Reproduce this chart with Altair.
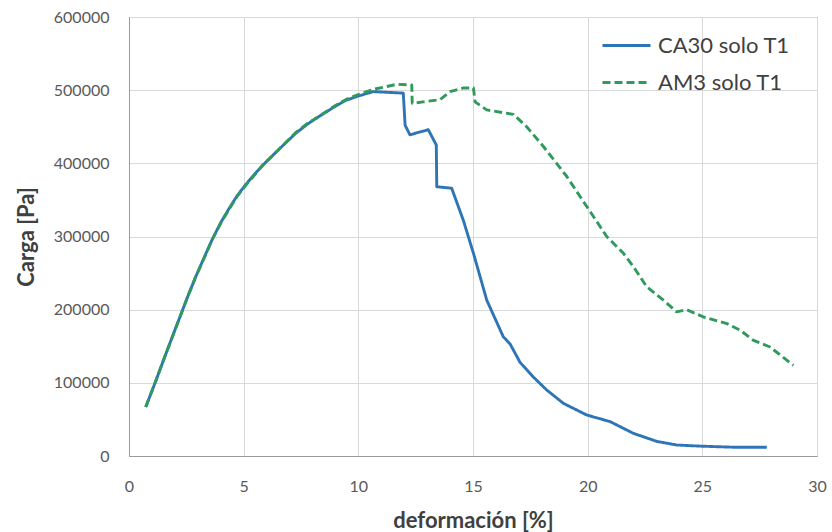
import altair as alt
import pandas as pd

# Load–strain curves, deformación [%] vs carga [Pa]
ca30_def = [0.73, 1.15, 1.6, 2.0, 2.33, 2.6, 2.91, 3.3, 3.63, 4.0, 4.36, 4.7,
            5.09, 5.5, 5.85, 6.5, 7.27, 7.8, 8.43, 9.0, 9.45, 10.0, 10.65, 11.96,
            12.04, 12.25, 13.05, 13.4, 13.42, 14.07, 14.58, 15.02, 15.6, 16.32,
            16.62, 17.05, 17.63, 18.22, 18.94, 19.96, 20.98, 21.99, 23.01,
            23.88, 24.9, 26.35, 27.81]
ca30_carga = [67000, 101000, 139000, 172000, 199000, 221000, 245000, 273000,
              296000, 319000, 338000, 355000, 371000, 386000, 398000, 418000,
              441000, 454000, 467000, 478000, 486000, 492000, 498000, 496000,
              452000, 439000, 446000, 425000, 368000, 366000, 322000, 277000,
              213000, 163000, 153000, 128000, 108000, 90000, 72000, 56000, 47000,
              31000, 20000, 15000, 13500, 12000, 12000]

am3_def = [0.73, 1.15, 1.6, 2.0, 2.33, 2.6, 2.91, 3.3, 3.63, 4.0, 4.36, 4.7,
           5.09, 5.5, 5.85, 6.5, 7.27, 7.8, 8.43, 9.0, 9.45, 10.0, 10.65, 11.67,
           12.33, 12.35, 12.83, 13.56, 14.0, 14.58, 15.02, 15.09, 15.6, 16.76,
           17.34, 18.07, 19.09, 19.96, 20.83, 21.56, 21.99, 22.58, 23.3, 23.88,
           24.32, 25.05, 26.07, 26.65, 27.23, 27.95, 28.97]
am3_carga = [67000, 101000, 139000, 172000, 199000, 221000, 245000, 272000,
             296000, 318000, 337000, 354000, 370000, 385000, 398000, 418000,
             442000, 455000, 467000, 479000, 487000, 494000, 501000, 508000,
             507000, 482000, 484000, 487000, 498000, 503000, 503000, 484000,
             473000, 467000, 450000, 423000, 382000, 341000, 300000, 277000,
             259000, 231000, 213000, 197000, 200000, 190000, 181000, 172000,
             158000, 149000, 124000]

series_names = ["CA30 solo T1", "AM3 solo T1"]
series_colors = ["#2e75b6", "#2f9a5c"]
series_dashes = [[1, 0], [8, 4]]

x_ticks = [0, 5, 10, 15, 20, 25, 30]
y_ticks = [0, 100000, 200000, 300000, 400000, 500000, 600000]

rows = []
for name, xs, ys in [(series_names[0], ca30_def, ca30_carga),
                     (series_names[1], am3_def, am3_carga)]:
    for i, (x, y) in enumerate(zip(xs, ys)):
        rows.append({"serie": name, "orden": i, "deformacion": x, "carga": y})
df = pd.DataFrame(rows)

FONT = "Lato"

legend_opts = dict(title=None, orient="none", legendX=472, legendY=3,
                   symbolType="stroke", symbolSize=2304, symbolStrokeWidth=2.8,
                   labelOffset=6, rowPadding=-11, padding=0)

chart = (
    alt.Chart(df)
    .mark_line(strokeWidth=2.9, strokeJoin="round")
    .encode(
        x=alt.X(
            "deformacion:Q",
            title="deformación [%]",
            scale=alt.Scale(domain=[0, 30], nice=False),
            axis=alt.Axis(values=x_ticks, format="d", tickSize=0, labelPadding=22,
                          labelFlush=False, titleY=64, titleBaseline="middle",
                          grid=True),
        ),
        y=alt.Y(
            "carga:Q",
            title="Carga [Pa]",
            scale=alt.Scale(domain=[0, 600000], nice=False),
            axis=alt.Axis(values=y_ticks, format="d", tickSize=0, labelPadding=20,
                          labelFlush=False, titleX=-103, titleY=219.5,
                          titleAlign="center", titleBaseline="middle", grid=True),
        ),
        color=alt.Color(
            "serie:N",
            scale=alt.Scale(domain=series_names, range=series_colors),
            legend=alt.Legend(**legend_opts),
        ),
        strokeDash=alt.StrokeDash(
            "serie:N",
            scale=alt.Scale(domain=series_names, range=series_dashes),
            legend=alt.Legend(**legend_opts),
        ),
        order="orden:Q",
    )
    .properties(
        width=688,
        height=439,
        autosize=alt.AutoSizeParams(type="none"),
        padding={"left": 129, "top": 17, "right": 15, "bottom": 76},
        background="white",
    )
    .configure_view(stroke="#9a9a9a", strokeWidth=1)
    .configure_axis(
        domainColor="#9a9a9a",
        gridColor="#d9d9d9",
        labelFont=FONT,
        labelFontSize=16,
        labelColor="#595959",
        titleFont=FONT,
        titleFontSize=22,
        titleFontWeight="bold",
        titleColor="#404040",
    )
    .configure_legend(
        labelFont=FONT,
        labelFontSize=22,
        labelColor="#404040",
    )
)

chart.save("out.html", embed_options={"renderer": "svg", "actions": False})
